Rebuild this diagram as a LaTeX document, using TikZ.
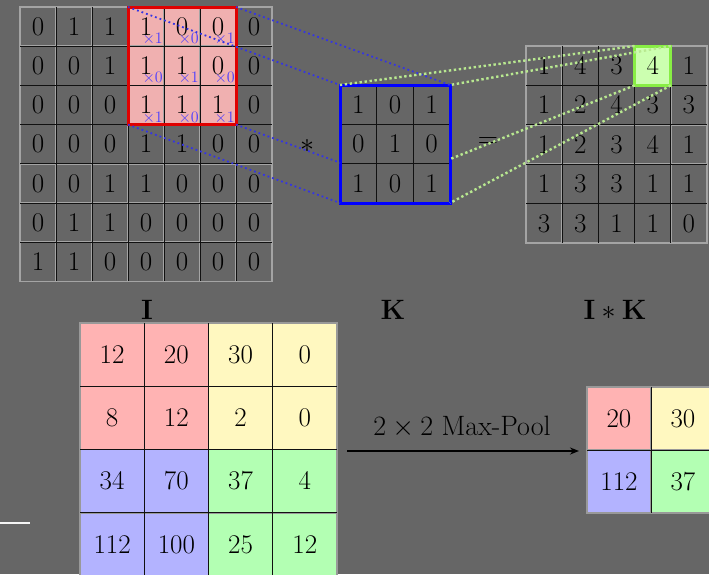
\RequirePackage{fix-cm}
\documentclass[tikz,border=0pt]{standalone}
\usetikzlibrary{arrows.meta}
\definecolor{canvas}{HTML}{666666}
\definecolor{cellline}{HTML}{A4A4A4}
\definecolor{sepline}{HTML}{111111}
\definecolor{pk}{HTML}{FFB3B3}
\definecolor{yl}{HTML}{FFF8C0}
\definecolor{bl}{HTML}{B3B3FF}
\definecolor{gr}{HTML}{B3FFB3}
\definecolor{winpink}{HTML}{F0B0B0}
\definecolor{winred}{HTML}{E00000}
\definecolor{kblue}{HTML}{0000FF}
\definecolor{lime}{HTML}{88EE44}
\definecolor{limefill}{HTML}{CCFFB0}
\definecolor{tagblue}{HTML}{4A3CFF}
\definecolor{bluedots}{HTML}{3434E4}
\definecolor{greendots}{HTML}{B8E890}

\tikzset{
  digits/.style={font=\fontsize{27}{32}\selectfont},
  cellbox/.style={draw=cellline, line width=1.6pt, inner sep=0pt, outer sep=0pt, digits},
  topcell/.style={cellbox, minimum width=36pt, minimum height=39.2pt},
  kcell/.style={cellbox, minimum width=36.67pt, minimum height=39.33pt},
  outcell/.style={cellbox, minimum width=36.2pt, minimum height=39.4pt},
  bigcell/.style={cellbox, draw=gray!80, line width=1.2pt, minimum width=64.25pt, minimum height=63.3pt},
  poolcell/.style={bigcell, minimum width=64pt, minimum height=63pt},
  gridsep/.style={draw=sepline, line width=0.9pt},
  boxframe/.style={inner sep=0pt, outer sep=0pt},
  multtag/.style={anchor=south east, inner sep=1pt, text=tagblue, font=\fontsize{16}{18}\selectfont},
  bluelink/.style={draw=bluedots, line width=1.8pt, dash pattern=on 1.8pt off 3pt},
  greenlink/.style={draw=greendots, line width=2.4pt, dash pattern=on 2.4pt off 2.6pt},
  headlbl/.style={font=\fontsize{28}{33}\selectfont},
}

\begin{document}
\begin{tikzpicture}[x=1pt, y=-1pt]
  \useasboundingbox (0,0) rectangle (709,574);
  \fill[canvas] (0,0) rectangle (709,574);
  \clip (0,0) rectangle (709,574);

  % ---------- input image I with the 3x3 window ----------
  \node[boxframe, fill=winpink, minimum width=108pt, minimum height=117.6pt] (f1) at (182,65.8) {};
  \foreach \row [count=\r] in {{0,1,1,1,0,0,0},{0,0,1,1,1,0,0},{0,0,0,1,1,1,0},{0,0,0,1,1,0,0},{0,0,1,1,0,0,0},{0,1,1,0,0,0,0},{1,1,0,0,0,0,0}}
    \foreach \v [count=\c] in \row
      \node[topcell] (a-\r-\c) at ({20+36*(\c-0.5)},{7+39.2*(\r-0.5)}) {$\v$};
  \foreach \c in {1,...,6} \draw[gridsep] (a-1-\c.north east) -- (a-7-\c.south east);
  \foreach \r in {1,...,6} \draw[gridsep] (a-\r-1.south west) -- (a-\r-7.south east);
  \draw[winred, line width=3pt] (f1.north west) rectangle (f1.south east);
  % kernel weights written in the window cells
  \foreach \row [count=\r] in {{1,0,1},{0,1,0},{1,0,1}}
    \foreach \w [count=\c] in \row {
      \pgfmathtruncatemacro{\cc}{\c+3}
      \node[multtag] (t-\r-\c) at (a-\r-\cc.south east) {$\times\w$};
    }

  % ---------- kernel K ----------
  \node[boxframe, minimum width=110pt, minimum height=118pt] (k) at (395,144) {};
  \foreach \row [count=\r] in {{1,0,1},{0,1,0},{1,0,1}}
    \foreach \v [count=\c] in \row
      \node[kcell] (k-\r-\c) at ({340+36.67*(\c-0.5)},{85+39.33*(\r-0.5)}) {$\v$};
  \foreach \c in {1,2} \draw[gridsep] (k-1-\c.north east) -- (k-3-\c.south east);
  \foreach \r in {1,2} \draw[gridsep] (k-\r-1.south west) -- (k-\r-3.south east);
  \draw[kblue, line width=3pt] (k.north west) rectangle (k.south east);

  % ---------- result I*K ----------
  \node[boxframe, fill=limefill, minimum width=36.2pt, minimum height=39.4pt] (f3) at (652.7,65.7) {};
  \foreach \row [count=\r] in {{1,4,3,4,1},{1,2,4,3,3},{1,2,3,4,1},{1,3,3,1,1},{3,3,1,1,0}}
    \foreach \v [count=\c] in \row
      \node[outcell] (o-\r-\c) at ({526+36.2*(\c-0.5)},{46+39.4*(\r-0.5)}) {$\v$};
  \foreach \c in {1,...,4} \draw[gridsep] (o-1-\c.north east) -- (o-5-\c.south east);
  \foreach \r in {1,...,4} \draw[gridsep] (o-\r-1.south west) -- (o-\r-5.south east);
  \draw[lime, line width=3pt] (f3.north west) rectangle (f3.south east);

  % operators
  \node[headlbl] (mul) at (307,146) {$*$};
  \node[headlbl] (eq) at (488,143) {$=$};

  % projection lines
  \coordinate (bse) at (intersection of f1.south east--k.south east and k.north west--k.south west);
  \coordinate (gsw) at (intersection of f3.south west--k.south west and k.north east--k.south east);
  \draw[bluelink] (f1.north west) -- (k.north west);
  \draw[bluelink] (f1.north east) -- (k.north east);
  \draw[bluelink] (f1.south west) -- (k.south west);
  \draw[bluelink] (f1.south east) -- (bse);
  \draw[greenlink] (f3.north west) -- (k.north west);
  \draw[greenlink] (f3.north east) -- (k.north east);
  \draw[greenlink] (f3.south west) -- (gsw);
  \draw[greenlink] (f3.south east) -- (k.south east);

  % ---------- headings ----------
  \node[headlbl] (hI) at (147,310) {$\mathbf{I}$};
  \node[headlbl] (hK) at (393,310) {$\mathbf{K}$};
  \node[headlbl] (hIK) at (615,310) {$\mathbf{I}*\mathbf{K}$};

  % ---------- max-pooling ----------
  \foreach \row [count=\r] in {{12/pk,20/pk,30/yl,0/yl},{8/pk,12/pk,2/yl,0/yl},{34/bl,70/bl,37/gr,4/gr},{112/bl,100/bl,25/gr,12/gr}}
    \foreach \v/\f [count=\c] in \row
      \node[bigcell, fill=\f] (b-\r-\c) at ({80+64.25*(\c-0.5)},{323+63.3*(\r-0.5)}) {$\v$};
  \foreach \c in {1,2,3} \draw[gridsep] (b-1-\c.north east) -- (b-4-\c.south east);
  \foreach \r in {1,2,3} \draw[gridsep] (b-\r-1.south west) -- (b-\r-4.south east);

  \foreach \row [count=\r] in {{20/pk,30/yl},{112/bl,37/gr}}
    \foreach \v/\f [count=\c] in \row
      \node[poolcell, fill=\f] (p-\r-\c) at ({587+64*(\c-0.5)},{387+63*(\r-0.5)}) {$\v$};
  \draw[gridsep] (p-1-1.north east) -- (p-2-1.south east);
  \draw[gridsep] (p-1-1.south west) -- (p-1-2.south east);

  \coordinate (arrS) at (347,451);
  \coordinate (arrE) at (579,451);
  \draw[black, line width=1.6pt, -{Stealth[length=9pt,width=7pt]}] (arrS) -- (arrE);
  \node[headlbl] (poolLbl) at (462,427) {$2\times2$ Max-Pool};

  % short rule at the left margin
  \coordinate (wl1) at (0,523);
  \coordinate (wl2) at (30,523);
  \draw[white!92!gray, line width=1.6pt] (wl1) -- (wl2);
\end{tikzpicture}
\end{document}
